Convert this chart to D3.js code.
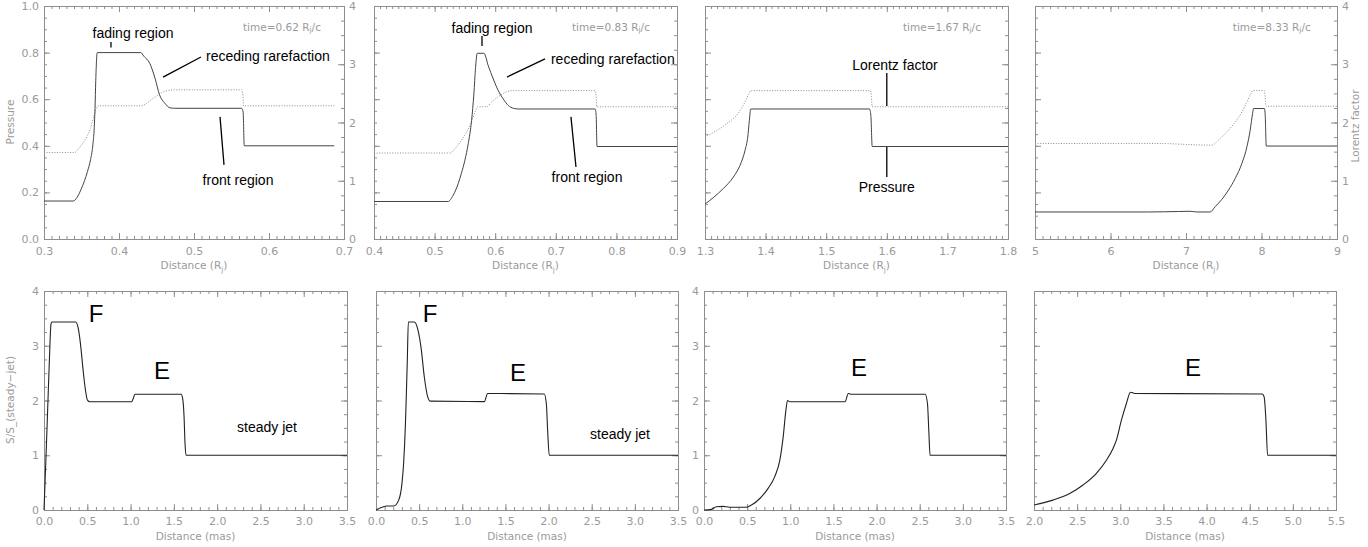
<!DOCTYPE html>
<html>
<head>
<meta charset="utf-8">
<script src="https://cdn.jsdelivr.net/npm/d3@7"></script>
<style>
  body { margin: 0; background: #fff; }
  svg { display: block; }
  .tick text { font-family: 'DejaVu Sans', sans-serif; font-size: 11px; fill: #9a9a9a; }
  .frame { fill: none; stroke: #8e8e8e; stroke-width: 1; }
  .axis-title { font-family: 'DejaVu Sans', sans-serif; font-size: 10.5px; fill: #9a9a9a; }
  .note { font-family: 'Liberation Sans', Arial, sans-serif; font-size: 14px; fill: #000; }
  .big { font-family: 'Liberation Sans', Arial, sans-serif; font-size: 24px; fill: #000; }
  .pointer { stroke: #000; stroke-width: 1.3; }
  .pressure { fill: none; stroke: #444; stroke-width: 1; }
  .lorentz { fill: none; stroke: #8a8a8a; stroke-width: 1; stroke-dasharray: 1 1.6; }
  .flux { fill: none; stroke: #222; stroke-width: 1.1; }
</style>
</head>
<body>
<svg width="1368" height="547"></svg>
<script>
'use strict';

// ---- data ----
const topTimes = ['0.62', '0.83', '1.67', '8.33'];

const topXTicks = [
  [0.3, 0.4, 0.5, 0.6, 0.7],
  [0.4, 0.5, 0.6, 0.7, 0.8, 0.9],
  [1.3, 1.4, 1.5, 1.6, 1.7, 1.8],
  [5, 6, 7, 8, 9]
];
const pressureTicks = [0, 0.2, 0.4, 0.6, 0.8, 1.0];
const lorentzTicks = [0, 1, 2, 3, 4];

const bottomXTicks = [
  [0, 0.5, 1.0, 1.5, 2.0, 2.5, 3.0, 3.5],
  [0, 0.5, 1.0, 1.5, 2.0, 2.5, 3.0, 3.5],
  [0, 0.5, 1.0, 1.5, 2.0, 2.5, 3.0, 3.5],
  [2.0, 2.5, 3.0, 3.5, 4.0, 4.5, 5.0, 5.5]
];
const fluxTicks = [0, 1, 2, 3, 4];

// pressure (left axis) and Lorentz factor (right axis) vs distance (Rj)
const pressureA = [[0.300,0.163],[0.339,0.163],[0.344,0.178],[0.349,0.21],[0.354,0.25],[0.358,0.29],[0.362,0.34],[0.365,0.40],[0.367,0.48],[0.368,0.56],[0.369,0.68],[0.371,0.80],[0.429,0.80],[0.433,0.785],[0.441,0.754],[0.448,0.69],[0.454,0.619],[0.461,0.583],[0.468,0.563],[0.474,0.561],[0.5635,0.561],[0.5655,0.545],[0.567,0.40],[0.687,0.40]];
const lorentzA = [[0.300,1.486],[0.341,1.486],[0.346,1.55],[0.352,1.65],[0.358,1.78],[0.362,1.90],[0.367,2.13],[0.370,2.25],[0.372,2.286],[0.430,2.286],[0.437,2.33],[0.444,2.40],[0.452,2.47],[0.460,2.53],[0.468,2.555],[0.474,2.56],[0.5635,2.56],[0.565,2.50],[0.566,2.286],[0.687,2.286]];

const pressureB = [[0.400,0.161],[0.522,0.161],[0.5307,0.188],[0.539,0.238],[0.544,0.28],[0.550,0.338],[0.5555,0.409],[0.561,0.508],[0.5648,0.622],[0.5676,0.736],[0.5703,0.797],[0.5814,0.797],[0.5885,0.744],[0.5968,0.687],[0.605,0.637],[0.6133,0.601],[0.6216,0.573],[0.630,0.561],[0.638,0.558],[0.765,0.558],[0.7666,0.53],[0.768,0.397],[0.900,0.397]];
const lorentzB = [[0.400,1.476],[0.525,1.476],[0.536,1.58],[0.547,1.74],[0.5555,1.89],[0.5626,2.06],[0.5676,2.20],[0.571,2.27],[0.5858,2.27],[0.594,2.35],[0.602,2.42],[0.6106,2.48],[0.619,2.53],[0.627,2.547],[0.765,2.547],[0.7665,2.45],[0.7677,2.27],[0.900,2.27]];

const pressureC = [[1.300,0.15],[1.3138,0.178],[1.330,0.216],[1.3468,0.266],[1.3578,0.316],[1.366,0.38],[1.3705,0.437],[1.3732,0.508],[1.3754,0.558],[1.5715,0.558],[1.5737,0.53],[1.5759,0.397],[1.800,0.397]];
const lorentzC = [[1.300,1.75],[1.3193,1.863],[1.3385,2.0],[1.355,2.16],[1.366,2.35],[1.3727,2.50],[1.3754,2.547],[1.5726,2.547],[1.5745,2.45],[1.5759,2.27],[1.800,2.27]];

const pressureD = [[5.00,0.116],[6.50,0.116],[6.90,0.118],[7.055,0.119],[7.144,0.116],[7.32,0.116],[7.387,0.139],[7.475,0.17],[7.563,0.21],[7.652,0.26],[7.74,0.324],[7.807,0.396],[7.85,0.467],[7.882,0.539],[7.895,0.56],[8.04,0.56],[8.05,0.524],[8.063,0.399],[9.00,0.399]];
const lorentzD = [[5.00,1.64],[6.60,1.64],[7.343,1.611],[7.43,1.697],[7.541,1.84],[7.652,2.01],[7.74,2.18],[7.807,2.354],[7.86,2.497],[7.886,2.549],[8.036,2.549],[8.047,2.45],[8.058,2.28],[9.00,2.28]];

// S/S(steady-jet) vs distance (mas)
const fluxA = [[0,0],[0.0116,0.486],[0.023,0.97],[0.042,1.82],[0.062,2.73],[0.081,3.40],[0.093,3.435],[0.367,3.435],[0.394,3.33],[0.421,3.04],[0.452,2.55],[0.479,2.19],[0.502,2.006],[0.529,1.976],[1.012,1.976],[1.031,2.036],[1.05,2.115],[1.583,2.115],[1.602,2.036],[1.618,1.70],[1.629,1.216],[1.641,1.0],[3.5,1.0]];
const fluxB = [[0,0],[0.07,0.05],[0.127,0.073],[0.205,0.073],[0.263,0.18],[0.301,0.486],[0.32,0.85],[0.34,1.52],[0.351,2.07],[0.363,2.74],[0.375,3.435],[0.444,3.435],[0.483,3.31],[0.521,2.98],[0.56,2.43],[0.599,2.067],[0.63,1.988],[1.255,1.98],[1.294,2.128],[1.95,2.12],[1.974,1.945],[1.989,1.46],[2.008,1.0],[3.5,1.0]];
const fluxC = [[0,0],[0.085,0.012],[0.143,0.06],[0.22,0.067],[0.298,0.05],[0.49,0.05],[0.55,0.09],[0.647,0.21],[0.743,0.395],[0.82,0.61],[0.879,0.91],[0.918,1.34],[0.949,1.82],[0.968,2.0],[0.995,1.976],[1.634,1.976],[1.673,2.128],[1.70,2.115],[2.563,2.115],[2.59,1.945],[2.605,1.46],[2.62,1.0],[3.5,1.0]];
const fluxD = [[2.0,0.091],[2.22,0.18],[2.414,0.30],[2.568,0.456],[2.723,0.67],[2.839,0.91],[2.916,1.125],[2.955,1.277],[3.013,1.64],[3.071,1.945],[3.118,2.152],[3.168,2.128],[4.645,2.12],[4.667,2.065],[4.688,1.64],[4.707,1.0],[5.5,1.0]];

const topPressure = [pressureA, pressureB, pressureC, pressureD];
const topLorentz = [lorentzA, lorentzB, lorentzC, lorentzD];
const bottomFlux = [fluxA, fluxB, fluxC, fluxD];

// ---- layout ----
const MAJOR = 6, MINOR = 3, GRAY = '#8e8e8e';
const topRow = { top: 6, bottom: 239, frames: [[44, 344], [374, 677], [705, 1008], [1035, 1337]] };
const bottomRow = { top: 291, bottom: 510, frames: [[44, 347], [376, 678], [704, 1006], [1034, 1336]] };

// annotations, in data units of each panel (pressure axis for top row)
const topNotes = [
  { texts: [['fading region', 0.4187, 0.884, 'middle'], ['receding rarefaction', 0.516, 0.785, 'start'], ['front region', 0.5587, 0.253, 'middle']],
    pointers: [[0.3893, 0.846, 0.3893, 0.822], [0.5093, 0.781, 0.4587, 0.695], [0.5347, 0.524, 0.540, 0.318]], time: [0.5653, 0.91] },
  { texts: [['fading region', 0.5947, 0.906, 'middle'], ['receding rarefaction', 0.692, 0.773, 'start'], ['front region', 0.7515, 0.266, 'middle']],
    pointers: [[0.5782, 0.871, 0.5782, 0.828], [0.6822, 0.773, 0.6195, 0.695], [0.725, 0.524, 0.7333, 0.309]], time: [0.7267, 0.91] },
  { texts: [['Lorentz factor', 1.6135, 0.747, 'middle'], ['Pressure', 1.6, 0.223, 'middle']],
    pointers: [[1.6, 0.712, 1.6, 0.571], [1.6, 0.395, 1.6, 0.266]], time: [1.6267, 0.91] },
  { texts: [], pointers: [], time: [7.62, 0.91] }
];
const bottomNotes = [
  [['F', 0.6007, 3.595, 'big'], ['E', 1.363, 2.557, 'big'], ['steady jet', 2.576, 1.516, 'note']],
  [['F', 0.626, 3.595, 'big'], ['E', 1.646, 2.52, 'big'], ['steady jet', 2.828, 1.388, 'note']],
  [['E', 1.796, 2.594, 'big']],
  [['E', 3.843, 2.594, 'big']]
];

const svg = d3.select('svg');

function steps(lo, hi, step) {
  const n = Math.round((hi - lo) / step);
  return d3.range(n + 1).map((i) => lo + i * step);
}

// inward major + minor ticks on one side, IDL style
function side(g, axisFn, scale, major, minor, translate, fmt, pad) {
  const a = g.append('g').attr('transform', translate).attr('color', GRAY);
  a.append('g').call(axisFn(scale).tickValues(minor).tickSize(-MINOR).tickFormat(() => ''));
  a.append('g').call(axisFn(scale).tickValues(major).tickSize(-MAJOR).tickPadding(pad)
    .tickFormat(fmt || (() => '')));
  a.selectAll('.domain').remove();
}

function frame(g, l, r, t, b) {
  g.append('rect').attr('class', 'frame')
    .attr('x', l + 0.5).attr('y', t + 0.5)
    .attr('width', r - l).attr('height', b - t);
}

function distanceTitle(g, x, y, unit) {
  const t = g.append('text').attr('class', 'axis-title')
    .attr('x', x).attr('y', y).attr('text-anchor', 'middle');
  if (unit === 'Rj') {
    t.append('tspan').text('Distance (R');
    t.append('tspan').attr('font-size', '7.5px').attr('dy', 2.5).text('j');
    t.append('tspan').attr('dy', -2.5).text(')');
  } else {
    t.text('Distance (mas)');
  }
}

const line = (x, y) => d3.line().x((d) => x(d[0])).y((d) => y(d[1])).curve(d3.curveMonotoneX);

// ---- top row ----
topRow.frames.forEach(([l, r], i) => {
  const g = svg.append('g');
  const xt = topXTicks[i];
  const x = d3.scaleLinear().domain([xt[0], xt[xt.length - 1]]).range([l, r]);
  const yP = d3.scaleLinear().domain([0, 1]).range([topRow.bottom, topRow.top]);
  const yL = d3.scaleLinear().domain([0, 4]).range([topRow.bottom, topRow.top]);
  const xMinor = steps(xt[0], xt[xt.length - 1], (xt[1] - xt[0]) / 10);
  const xFmt = i === 3 ? d3.format('d') : d3.format('.1f');

  side(g, d3.axisBottom, x, xt, xMinor, `translate(0,${topRow.bottom})`, xFmt, 8);
  side(g, d3.axisTop, x, xt, xMinor, `translate(0,${topRow.top})`, null, 3);
  side(g, d3.axisLeft, yP, pressureTicks, steps(0, 1, 0.05), `translate(${l},0)`,
    i === 0 ? d3.format('.1f') : null, 5);
  side(g, d3.axisRight, yL, lorentzTicks, steps(0, 4, 0.25), `translate(${r},0)`,
    (i === 0 || i === 3) ? d3.format('d') : null, 5);
  frame(g, l, r, topRow.top, topRow.bottom);

  g.append('path').datum(topLorentz[i]).attr('class', 'lorentz').attr('d', line(x, yL));
  g.append('path').datum(topPressure[i]).attr('class', 'pressure').attr('d', line(x, yP));

  distanceTitle(g, (l + r) / 2, 269, 'Rj');

  const notes = topNotes[i];
  notes.texts.forEach(([txt, dx, dy, anchor]) => {
    g.append('text').attr('class', 'note').attr('x', x(dx)).attr('y', yP(dy))
      .attr('text-anchor', anchor).attr('dominant-baseline', 'central').text(txt);
  });
  notes.pointers.forEach(([x1, y1, x2, y2]) => {
    g.append('line').attr('class', 'pointer')
      .attr('x1', x(x1)).attr('y1', yP(y1)).attr('x2', x(x2)).attr('y2', yP(y2));
  });
  const tl = g.append('text').attr('class', 'axis-title')
    .attr('x', x(notes.time[0])).attr('y', yP(notes.time[1])).attr('dominant-baseline', 'central');
  tl.append('tspan').text(`time=${topTimes[i]} R`);
  tl.append('tspan').attr('font-size', '7.5px').attr('dy', 2.5).text('j');
  tl.append('tspan').attr('dy', -2.5).text('/c');
});

svg.append('text').attr('class', 'axis-title')
  .attr('transform', 'translate(14,122) rotate(-90)').attr('text-anchor', 'middle').text('Pressure');
svg.append('text').attr('class', 'axis-title')
  .attr('transform', 'translate(1359,126) rotate(-90)').attr('text-anchor', 'middle').text('Lorentz factor');

// ---- bottom row ----
bottomRow.frames.forEach(([l, r], i) => {
  const g = svg.append('g');
  const xt = bottomXTicks[i];
  const x = d3.scaleLinear().domain([xt[0], xt[xt.length - 1]]).range([l, r]);
  const y = d3.scaleLinear().domain([0, 4]).range([bottomRow.bottom, bottomRow.top]);
  const xMinor = steps(xt[0], xt[xt.length - 1], 0.1);
  const yMinor = steps(0, 4, 0.25);

  side(g, d3.axisBottom, x, xt, xMinor, `translate(0,${bottomRow.bottom})`, d3.format('.1f'), 7);
  side(g, d3.axisTop, x, xt, xMinor, `translate(0,${bottomRow.top})`, null, 3);
  side(g, d3.axisLeft, y, fluxTicks, yMinor, `translate(${l},0)`,
    (i === 0 || i === 2) ? d3.format('d') : null, 5);
  side(g, d3.axisRight, y, fluxTicks, yMinor, `translate(${r},0)`, null, 5);
  frame(g, l, r, bottomRow.top, bottomRow.bottom);

  g.append('path').datum(bottomFlux[i]).attr('class', 'flux').attr('d', line(x, y));

  distanceTitle(g, (l + r) / 2, 540, 'mas');

  bottomNotes[i].forEach(([txt, dx, dy, cls]) => {
    g.append('text').attr('class', cls).attr('x', x(dx)).attr('y', y(dy))
      .attr('text-anchor', 'middle').attr('dominant-baseline', 'central').text(txt);
  });
});

svg.append('text').attr('class', 'axis-title')
  .attr('transform', 'translate(14,400) rotate(-90)').attr('text-anchor', 'middle')
  .text('S/S_(steady\u2212jet)');
</script>
</body>
</html>
